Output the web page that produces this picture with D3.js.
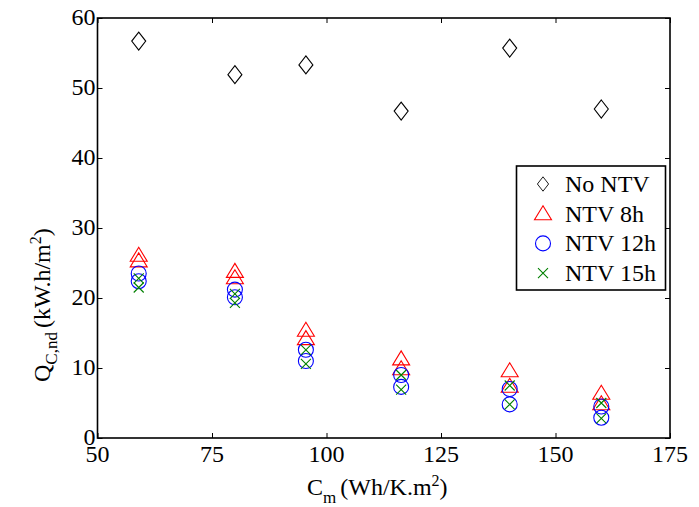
<!DOCTYPE html>
<html>
<head>
<script src="https://cdn.jsdelivr.net/npm/d3@7"></script>
<style>
  body { margin: 0; background: #fff; }
  svg text { font-family: "Times New Roman", "Liberation Serif", "DejaVu Serif", serif; fill: #000; }
</style>
</head>
<body>
<div id="vis"></div>
<script>
// x positions (thermal mass, Wh/K.m2)
const cm = [59, 80, 95.5, 116.3, 140, 160];
// cooling need, each NTV case plotted twice (two variants)
const noNtv = [56.7, 51.9, 53.3, 46.7, 55.7, 47.0];
const ntv8a = [26.1, 23.8, 15.4, 11.3, 9.6, 6.4];
const ntv8b = [25.3, 22.9, 14.2, 9.9, 7.4, 4.9];
const ntv12a = [23.5, 21.2, 12.6, 9.0, 7.0, 4.5];
const ntv12b = [22.4, 20.1, 11.0, 7.3, 4.8, 2.9];
const ntv15a = [22.8, 20.6, 12.6, 9.0, 7.5, 5.0];
const ntv15b = [21.5, 19.3, 10.6, 6.9, 4.8, 2.8];
const xTicks = [50, 75, 100, 125, 150, 175];
const yTicks = [0, 10, 20, 30, 40, 50, 60];
const legendLabels = ["No NTV", "NTV 8h", "NTV 12h", "NTV 15h"];

const W = 699, H = 507;
const m = {left: 97.5, right: 29, top: 18, bottom: 69};
const fs = 24;
const serif = '"Times New Roman", "Liberation Serif", "DejaVu Serif", serif';

const svg = d3.select("#vis").append("svg").attr("width", W).attr("height", H)
  .attr("font-family", serif).style("font-family", serif);

const x = d3.scaleLinear().domain([50, 175]).range([m.left, W - m.right]);
const y = d3.scaleLinear().domain([0, 60]).range([H - m.bottom, m.top]);

const markers = {
  diamond: "M0,-9L7,0L0,9L-7,0Z",
  triangle: "M0,-8L8.5,6L-8.5,6Z",
  circle: d3.symbol().type(d3.symbolCircle).size(Math.PI * 7.5 * 7.5)(),
  cross: "M-5,-5L5,5M-5,5L5,-5"
};

const series = [
  {vals: noNtv, shape: "diamond", color: "#000"},
  {vals: ntv8a, shape: "triangle", color: "#ff0000"},
  {vals: ntv8b, shape: "triangle", color: "#ff0000"},
  {vals: ntv12a, shape: "circle", color: "#0000ff"},
  {vals: ntv12b, shape: "circle", color: "#0000ff"},
  {vals: ntv15a, shape: "cross", color: "#008000"},
  {vals: ntv15b, shape: "cross", color: "#008000"}
];

// ticks inside on all sides
const tickLen = 5;
svg.append("g").attr("transform", `translate(0,${y(0)})`)
  .call(d3.axisBottom(x).tickValues(xTicks).tickSizeInner(-tickLen).tickSizeOuter(0).tickFormat(""));
svg.append("g").attr("transform", `translate(0,${y(60)})`)
  .call(d3.axisTop(x).tickValues(xTicks).tickSizeInner(-tickLen).tickSizeOuter(0).tickFormat(""));
svg.append("g").attr("transform", `translate(${x(50)},0)`)
  .call(d3.axisLeft(y).tickValues(yTicks).tickSizeInner(-tickLen).tickSizeOuter(0).tickFormat(""));
svg.append("g").attr("transform", `translate(${x(175)},0)`)
  .call(d3.axisRight(y).tickValues(yTicks).tickSizeInner(-tickLen).tickSizeOuter(0).tickFormat(""));
svg.selectAll(".domain").remove();
svg.selectAll(".tick line").attr("stroke", "#000").attr("stroke-width", 1);

svg.append("rect")
  .attr("x", x(50)).attr("y", y(60))
  .attr("width", x(175) - x(50)).attr("height", y(0) - y(60))
  .attr("fill", "none").attr("stroke", "#000").attr("stroke-width", 1.6);

// tick labels
svg.append("g").selectAll("text").data(xTicks).join("text")
  .attr("x", d => x(d)).attr("y", y(0) + 24)
  .attr("text-anchor", "middle").attr("font-size", fs)
  .text(d => d);
svg.append("g").selectAll("text").data(yTicks).join("text")
  .attr("x", x(50) - 2).attr("y", d => y(d) + 7)
  .attr("text-anchor", "end").attr("font-size", fs)
  .text(d => d);

// axis titles
const xt = svg.append("text").attr("x", 307).attr("y", 495).attr("font-size", fs);
xt.append("tspan").text("C");
xt.append("tspan").attr("dy", 8).attr("font-size", 17).text("m");
xt.append("tspan").attr("dy", -8).attr("dx", 4).text("(Wh/K.m");
xt.append("tspan").attr("dy", -9).attr("font-size", 16).text("2");
xt.append("tspan").attr("dy", 9).text(")");

const yt = svg.append("text").attr("transform", "translate(50,382) rotate(-90)").attr("font-size", fs);
yt.append("tspan").text("Q");
yt.append("tspan").attr("dy", 7).attr("font-size", 17).text("C,nd");
yt.append("tspan").attr("dy", -7).attr("dx", 4).text("(kW.h/m");
yt.append("tspan").attr("dy", -9).attr("font-size", 16).text("2");
yt.append("tspan").attr("dy", 9).text(")");

// points
series.forEach(s => {
  svg.append("g").selectAll("path").data(s.vals).join("path")
    .attr("d", markers[s.shape])
    .attr("transform", (d, i) => `translate(${x(cm[i])},${y(d)})`)
    .attr("fill", "none").attr("stroke", s.color).attr("stroke-width", 1.1);
});

// legend
const lg = svg.append("g");
lg.append("rect").attr("x", 516.5).attr("y", 166).attr("width", 149).attr("height", 124)
  .attr("fill", "#fff").attr("stroke", "#000").attr("stroke-width", 1.6);
const legendItems = [
  {shape: "diamond", color: "#000", scale: 0.8},
  {shape: "triangle", color: "#ff0000", scale: 1},
  {shape: "circle", color: "#0000ff", scale: 1},
  {shape: "cross", color: "#008000", scale: 1}
];
legendItems.forEach((it, i) => {
  const cy = 184 + i * 29.7;
  lg.append("path").attr("d", markers[it.shape])
    .attr("transform", `translate(543,${cy}) scale(${it.scale})`)
    .attr("fill", "none").attr("stroke", it.color).attr("stroke-width", 1.1);
  lg.append("text").attr("x", 565).attr("y", cy + 8).attr("font-size", fs).text(legendLabels[i]);
});
</script>
</body>
</html>
